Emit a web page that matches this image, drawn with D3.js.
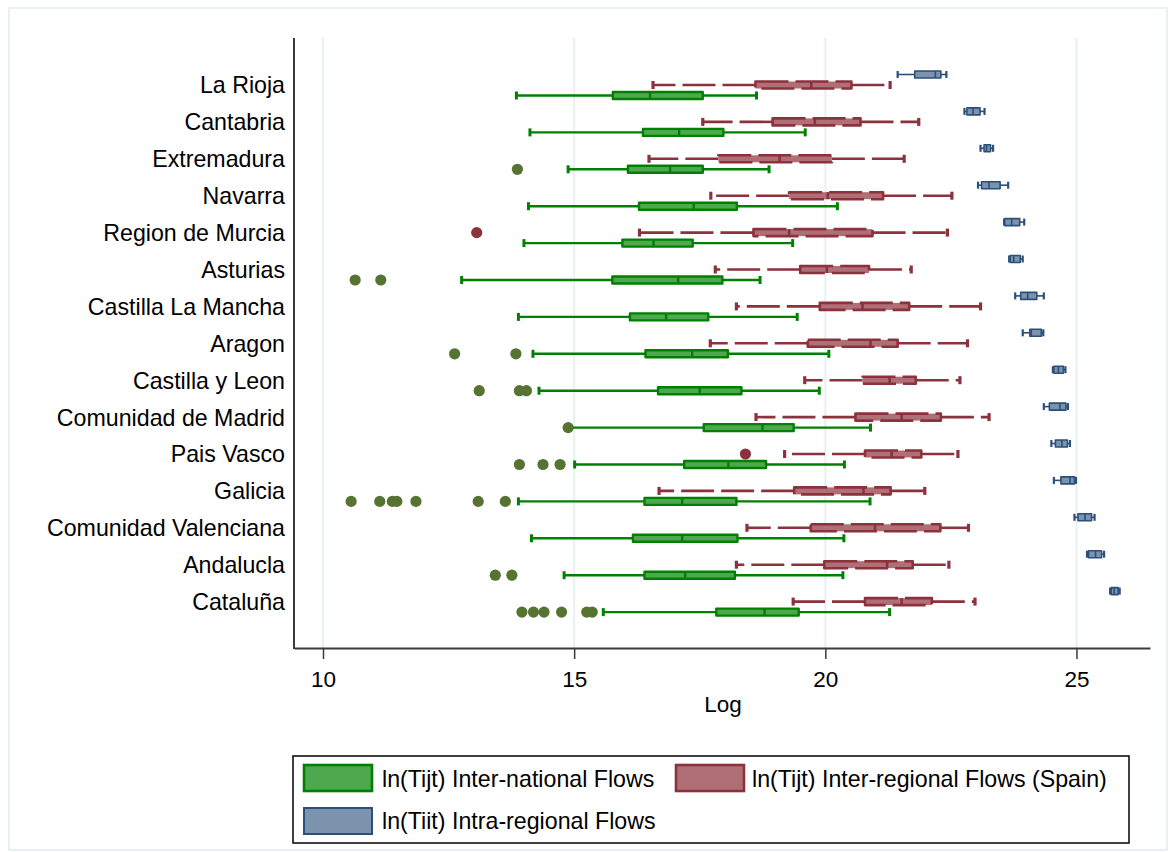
<!DOCTYPE html>
<html>
<head>
<meta charset="utf-8">
<script src="https://cdn.jsdelivr.net/npm/d3@7/dist/d3.min.js"></script>
<style>
  html, body { margin: 0; padding: 0; background: #fff; }
  svg { display: block; font-family: "Liberation Sans", Arial, sans-serif; }
</style>
</head>
<body>
<svg id="chart" width="1176" height="852"></svg>
<script>
// ---------------- DATA ----------------
const categories = ["La Rioja", "Cantabria", "Extremadura", "Navarra", "Region de Murcia",
  "Asturias ", "Castilla La Mancha", "Aragon", "Castilla y Leon", "Comunidad de Madrid",
  "Pais Vasco", "Galicia", "Comunidad Valenciana", "Andalucla", "Cataluña"];

const seriesKeys = ["intra", "inter", "intl"];
const seriesLabels = ["ln(Tijt) Inter-national Flows", "ln(Tijt) Inter-regional Flows (Spain)", "ln(Tiit) Intra-regional Flows"];

// [lower adjacent, q1, median, q3, upper adjacent]
const internationalStats = [
  [13.85, 15.77, 16.51, 17.56, 18.63],
  [14.12, 16.37, 17.09, 17.97, 19.60],
  [14.88, 16.07, 16.91, 17.56, 18.88],
  [14.09, 16.29, 17.38, 18.24, 20.24],
  [14.00, 15.96, 16.58, 17.36, 19.35],
  [12.76, 15.76, 17.07, 17.95, 18.70],
  [13.89, 16.11, 16.83, 17.67, 19.44],
  [14.18, 16.42, 17.35, 18.06, 20.07],
  [14.30, 16.67, 17.50, 18.33, 19.88],
  [14.90, 17.58, 18.75, 19.37, 20.90],
  [15.01, 17.19, 18.07, 18.82, 20.38],
  [13.89, 16.40, 17.15, 18.23, 20.89],
  [14.15, 16.17, 17.15, 18.25, 20.37],
  [14.80, 16.40, 17.21, 18.20, 20.35],
  [15.58, 17.83, 18.79, 19.47, 21.28]
];
const internationalOutliers = [
  [], [], [13.87], [], [], [10.64, 11.15], [], [12.62, 13.84], [13.11, 13.91, 14.05],
  [14.88], [13.91, 14.38, 14.72], [10.56, 11.13, 11.38, 11.47, 11.85, 13.09, 13.63],
  [], [13.43, 13.76], [13.96, 14.19, 14.40, 14.75, 15.25, 15.36]
];

const interregionalStats = [
  [16.57, 18.61, 19.72, 20.52, 21.29],
  [17.56, 18.95, 19.79, 20.70, 21.86],
  [16.49, 17.87, 19.09, 20.13, 21.57],
  [17.72, 19.28, 20.05, 21.15, 22.52],
  [16.30, 18.57, 19.28, 20.94, 22.43],
  [17.81, 19.50, 20.03, 20.87, 21.71],
  [18.23, 19.89, 20.74, 21.67, 23.09],
  [17.71, 19.65, 20.90, 21.44, 22.83],
  [19.59, 20.74, 21.28, 21.80, 22.68],
  [18.62, 20.60, 21.52, 22.30, 23.26],
  [19.19, 20.79, 21.32, 21.91, 22.64],
  [16.69, 19.38, 20.76, 21.30, 21.98],
  [18.44, 19.71, 20.99, 22.29, 22.85],
  [18.23, 19.98, 21.23, 21.74, 22.46],
  [19.36, 20.79, 21.52, 22.12, 22.98]
];
const interregionalOutliers = [
  [], [], [], [], [13.06], [], [], [], [], [], [18.41], [], [], [], []
];

const intraregionalStats = [
  [21.44, 21.78, 22.19, 22.30, 22.41],
  [22.77, 22.82, 22.94, 23.08, 23.17],
  [23.09, 23.16, 23.21, 23.29, 23.34],
  [23.04, 23.11, 23.26, 23.48, 23.64],
  [23.56, 23.57, 23.71, 23.87, 23.96],
  [23.66, 23.68, 23.75, 23.88, 23.93],
  [23.78, 23.89, 24.03, 24.21, 24.35],
  [23.93, 24.07, 24.10, 24.30, 24.34],
  [24.53, 24.55, 24.64, 24.74, 24.78],
  [24.35, 24.46, 24.67, 24.79, 24.83],
  [24.50, 24.58, 24.71, 24.82, 24.87],
  [24.55, 24.69, 24.87, 24.96, 24.99],
  [24.96, 25.03, 25.17, 25.30, 25.36],
  [25.21, 25.24, 25.38, 25.50, 25.55],
  [25.67, 25.69, 25.75, 25.83, 25.86]
];

const xTicks = [10, 15, 20, 25];
const xTitle = "Log";

// ---------------- STYLES ----------------
const styles = {
  intl:  { fill: "#4ea94e", stroke: "#008000", sw: 2.4, dash: null, dot: "#567332", capH: 8, boxH: 7 },
  inter: { fill: "#b06e76", stroke: "#8c323d", sw: 2.6, dash: "33,7", dot: "#8c323d", capH: 8, boxH: 7 },
  intra: { fill: "#7b93ad", stroke: "#2c4f7c", sw: 1.6, dash: null, dot: "#2c4f7c", capH: 7, boxH: 7 }
};

// ---------------- LAYOUT ----------------
const svg = d3.select("#chart");
const plot = { left: 294, right: 1150, top: 38, bottom: 648 };

// outer frame
svg.append("rect").attr("x", 9).attr("y", 8).attr("width", 1158).attr("height", 842)
  .attr("fill", "#fff").attr("stroke", "#e3ecee").attr("stroke-width", 1.5);

const x = d3.scaleLinear().domain([9.4226, 26.4637]).range([plot.left, plot.right]);
const yCat = d3.scalePoint().domain(categories).range([85.3, 601.9]);
const ySer = d3.scalePoint().domain(seriesKeys).range([-10.8, 10.2]);

// grid lines
svg.append("g").selectAll("line").data(xTicks).join("line")
  .attr("x1", d => x(d)).attr("x2", d => x(d))
  .attr("y1", plot.top).attr("y2", plot.bottom)
  .attr("stroke", "#e8f0f2").attr("stroke-width", 2);

// y labels
svg.append("g").selectAll("text").data(categories).join("text")
  .attr("x", 285).attr("y", d => yCat(d)).attr("dy", "0.35em")
  .attr("text-anchor", "end").attr("font-size", 23.2).attr("fill", "#000")
  .text(d => d);

// boxes
const seriesData = {
  intl: { stats: internationalStats, outliers: internationalOutliers },
  inter: { stats: interregionalStats, outliers: interregionalOutliers },
  intra: { stats: intraregionalStats, outliers: categories.map(() => []) }
};

const drawOrder = ["intra", "intl", "inter"];
drawOrder.forEach(key => {
  const st = styles[key];
  const g = svg.append("g");
  seriesData[key].stats.forEach((s, i) => {
    const cy = yCat(categories[i]) + ySer(key);
    const [lo, q1, med, q3, hi] = s;
    const bh = st.boxH;
    // whiskers (drawn from box outward)
    [[q1, lo], [q3, hi]].forEach(([a, b]) => {
      g.append("line").attr("x1", x(a)).attr("x2", x(b)).attr("y1", cy).attr("y2", cy)
        .attr("stroke", st.stroke).attr("stroke-width", st.sw)
        .attr("stroke-dasharray", st.dash);
      g.append("line").attr("x1", x(b)).attr("x2", x(b))
        .attr("y1", cy - st.capH / 2).attr("y2", cy + st.capH / 2)
        .attr("stroke", st.stroke).attr("stroke-width", st.sw + 0.6);
    });
    // box
    g.append("rect").attr("x", x(q1)).attr("y", cy - bh / 2)
      .attr("width", x(q3) - x(q1)).attr("height", bh)
      .attr("fill", st.fill).attr("stroke", st.stroke).attr("stroke-width", st.sw)
      .attr("stroke-linejoin", "round")
      .attr("stroke-dasharray", st.dash);
    // median
    g.append("line").attr("x1", x(med)).attr("x2", x(med))
      .attr("y1", cy - bh / 2).attr("y2", cy + bh / 2)
      .attr("stroke", st.stroke).attr("stroke-width", st.sw);
    // outliers
    seriesData[key].outliers[i].forEach(v => {
      g.append("circle").attr("cx", x(v)).attr("cy", cy).attr("r", 5.6)
        .attr("fill", st.dot);
    });
  });
});

// axes
svg.append("line").attr("x1", plot.left).attr("x2", plot.left)
  .attr("y1", plot.top).attr("y2", plot.bottom + 1)
  .attr("stroke", "#3a3a3a").attr("stroke-width", 2);

const xAxis = d3.axisBottom(x).tickValues(xTicks).tickSize(11).tickSizeOuter(0).tickPadding(12)
  .tickFormat(d3.format("d"));
const gx = svg.append("g").attr("transform", `translate(0,${plot.bottom})`).call(xAxis);
gx.select(".domain").attr("stroke", "#3a3a3a").attr("stroke-width", 2);
gx.selectAll(".tick line").attr("stroke", "#3a3a3a").attr("stroke-width", 1.5);
gx.selectAll(".tick text").attr("font-size", 22.5).attr("fill", "#000")
  .attr("font-family", "\"Liberation Sans\", Arial, sans-serif");

svg.append("text").attr("x", (plot.left + plot.right) / 2 + 1).attr("y", 712)
  .attr("text-anchor", "middle").attr("font-size", 22.5).attr("fill", "#000").text(xTitle);

// legend
const lg = svg.append("g");
lg.append("rect").attr("x", 293).attr("y", 756).attr("width", 836).attr("height", 87)
  .attr("fill", "#fff").attr("stroke", "#111").attr("stroke-width", 1.6);
const legendItems = [
  { key: "intl", label: seriesLabels[0], sx: 304, sy: 765, tx: 382, ty: 787 },
  { key: "inter", label: seriesLabels[1], sx: 676, sy: 765, tx: 752, ty: 787 },
  { key: "intra", label: seriesLabels[2], sx: 304, sy: 808, tx: 382, ty: 829 }
];
legendItems.forEach(it => {
  const st = styles[it.key];
  lg.append("rect").attr("x", it.sx).attr("y", it.sy).attr("width", 68).attr("height", 26)
    .attr("fill", st.fill).attr("stroke", st.stroke).attr("stroke-width", it.key === "intra" ? 2 : 2.6);
  lg.append("text").attr("x", it.tx).attr("y", it.ty).attr("font-size", 23.2).attr("fill", "#000")
    .text(it.label);
});
</script>
</body>
</html>
